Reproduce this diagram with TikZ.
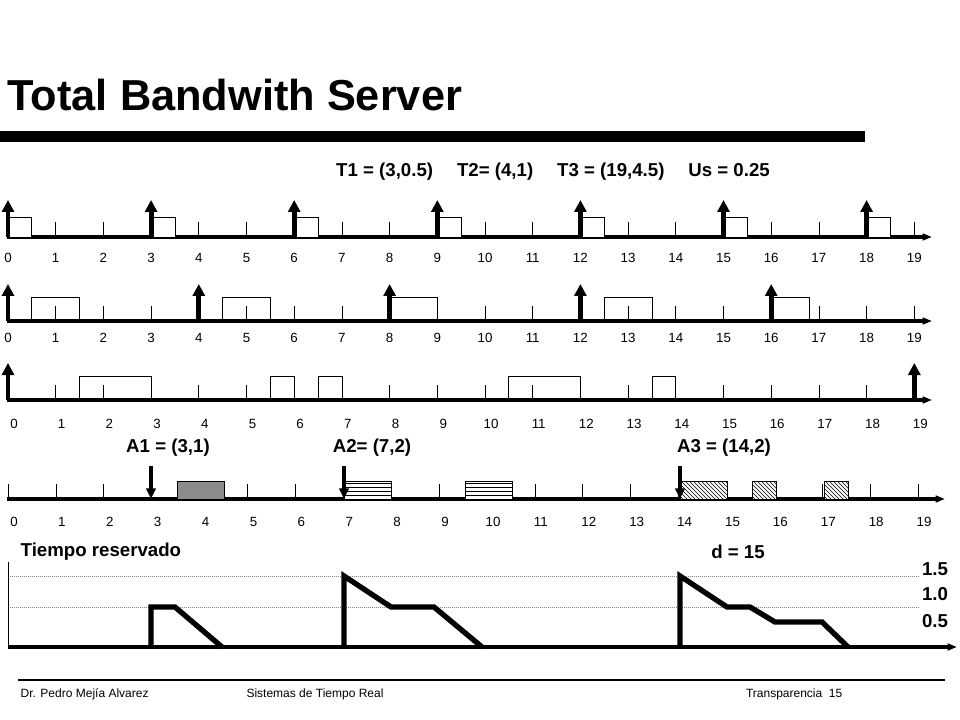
\documentclass[tikz,border=0pt]{standalone}
\usepackage{fontspec}
\setmainfont{Liberation Sans}
\usetikzlibrary{patterns,arrows.meta}
\begin{document}
\begin{tikzpicture}[x=0.75pt,y=-0.75pt,
 axis/.style={line width=2.6pt,-{Triangle[length=7pt,width=5pt]}},
 tick/.style={line width=0.6pt},
 rel/.style={line width=3.6pt,-{Triangle[length=9pt,width=9pt]}},
 job/.style={draw,line width=0.6pt},
 lbl/.style={font=\fontsize{10}{12}\selectfont},
 big/.style={font=\bfseries\fontsize{14}{16}\selectfont},
 curve/.style={line width=4pt,line join=miter}]
\useasboundingbox (0,0) rectangle (960,720);
\def\u{47.7}
\node[anchor=west,font=\bfseries\fontsize{32.5}{36}\selectfont] (title) at (3,95) {Total Bandwith Server};
\fill (0,131) rectangle (865,142);
\node[big] (par) at (553,172) {T1 = (3,0.5)\quad\ T2= (4,1)\quad\ T3 = (19,4.5)\quad\ Us = 0.25};
\newcommand\tline[3]{%
 \coordinate (s#1) at (7,#1); \coordinate (e#1) at (932,#1);
 \draw[axis] (s#1) -- (e#1);
 \foreach \i in {1,...,19} \draw[tick] (8+\i*\u,#1) -- (8+\i*\u,#1-15);
 \foreach \i in {0,...,19} \node[lbl] at (8+\i*\u+#3,#2) {\i};}
% timeline 1
\tline{237}{258}{0}
\foreach \k in {0,3,...,18}{\draw[job,fill=white] (8+\k*\u,237) rectangle (8+\k*\u+0.5*\u,217);
 \coordinate (a\k) at (8+\k*\u,237); \draw[rel] (a\k) -- ++(0,-37);}
% timeline 2
\tline{321}{338}{0}
\foreach \a/\b in {0.5/1.5,4.5/5.5,8/9,12.5/13.5,16/16.8} \draw[job] (8+\a*\u,321) rectangle (8+\b*\u,297);
\foreach \k in {0,4,...,16}{\coordinate (b\k) at (8+\k*\u,321); \draw[rel] (b\k) -- ++(0,-37);}
% timeline 3
\tline{400}{424}{6}
\foreach \a/\b in {1.5/3,5.5/6,6.5/7,10.5/12,13.5/14} \draw[job] (8+\a*\u,400) rectangle (8+\b*\u,376);
\foreach \k in {0,19}{\coordinate (c\k) at (8+\k*\u,400); \draw[rel] (c\k) -- ++(0,-37);}
% timeline 4
\node[big] (A1) at (168,448) {A1 = (3,1)};
\node[big] (A2) at (372,448) {A2= (7,2)};
\node[big] (A3) at (724,448) {A3 = (14,2)};
\coordinate (s4) at (7,499); \coordinate (e4) at (945,499);
\def\v{47.9}
\foreach \i in {0,...,19} \draw[tick] (8+\i*\v,499) -- (8+\i*\v,484);
\draw[axis] (s4) -- (e4);
\foreach \i in {0,...,19} \node[lbl] at (14+\i*\v,522) {\i};
\fill[gray!90,draw=black,line width=0.6pt] (177,481) rectangle (224,499);
\foreach \a/\b in {344/391,465/512}{\fill[white] (\a,481) rectangle (\b,499); \draw[job,pattern=horizontal lines] (\a,481) rectangle (\b,499);}
\foreach \a/\b in {680/727,752/776,824/848}{\fill[white] (\a,481) rectangle (\b,499); \draw[job,pattern=north west lines] (\a,481) rectangle (\b,499);}
\foreach \x/\n in {151/1,344/2,680/3}{\coordinate (d\n) at (\x,466); \draw[line width=3pt,-{Triangle[length=8pt,width=7pt]}] (d\n) -- (\x,499);}
% reserved time
\node[big,anchor=west] (tr) at (16,552) {Tiempo reservado};
\node[big] (dd) at (738,552) {d = 15};
\draw[densely dotted,gray,line width=0.5pt] (8,576) -- (920,576);
\draw[densely dotted,gray,line width=0.5pt] (8,607) -- (920,607);
\draw[line width=0.5pt] (8,562) -- (8,647);
\draw[axis] (8,647) -- (957,647);
\node[big] at (935,569) {1.5};
\node[big] at (935,594) {1.0};
\node[big] at (935,621) {0.5};
\draw[curve] (151,647) -- (151,607) -- (175,607) -- (222,647);
\draw[curve] (344,647) -- (344,576) -- (391,607) -- (434,607) -- (482,647);
\draw[curve] (680,647) -- (680,576) -- (727,607) -- (750,607) -- (775,622) -- (822,622) -- (848,647);
% footer
\draw[line width=1.6pt] (18,680) -- (945,680);
\node[font=\fontsize{9}{10}\selectfont,anchor=west] at (16,694) {Dr. Pedro Mejía Alvarez};
\node[font=\fontsize{9}{10}\selectfont] at (315,694) {Sistemas de Tiempo Real};
\node[font=\fontsize{9}{10}\selectfont,anchor=east] at (847,694) {Transparencia\ \ 15};
\end{tikzpicture}
\end{document}
